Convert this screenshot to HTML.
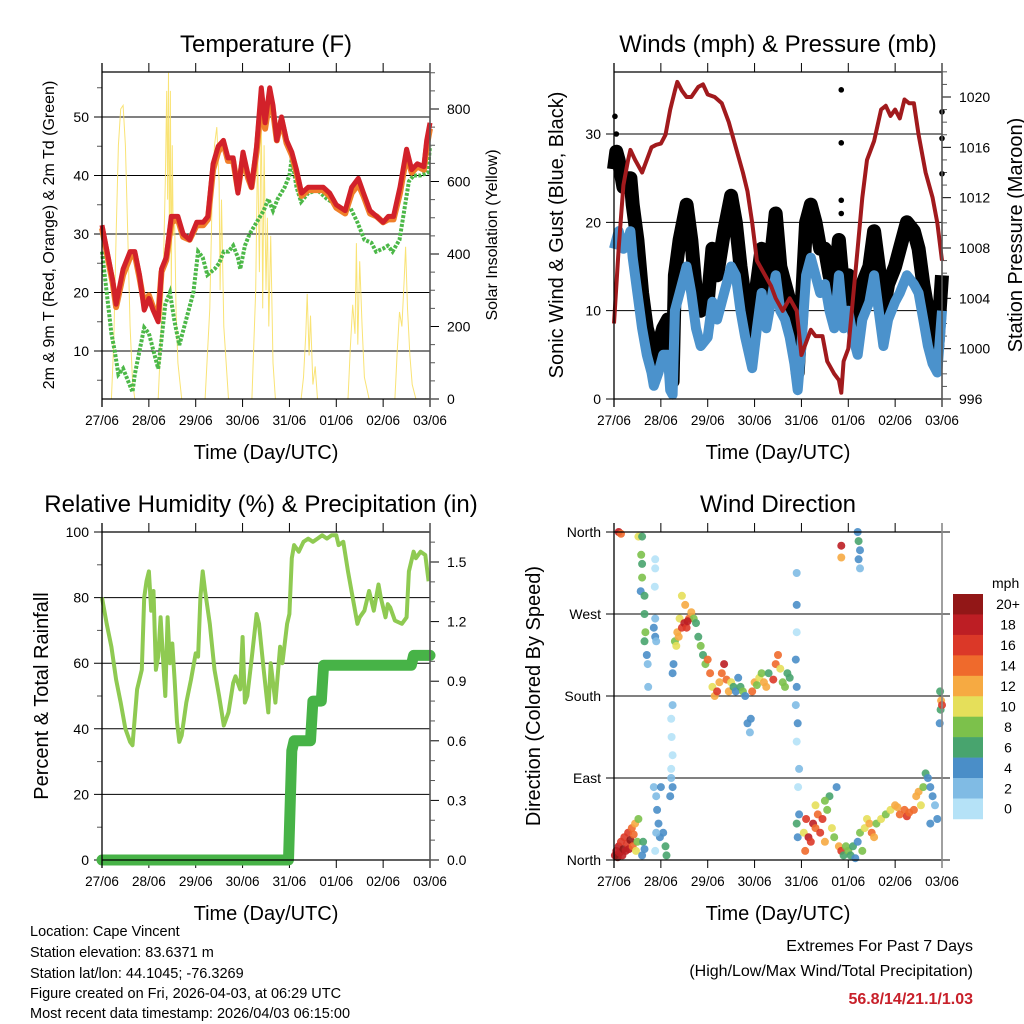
<!DOCTYPE html>
<html><head><meta charset="utf-8"><style>
html,body{margin:0;padding:0;background:#fff;}
svg{display:block;font-family:"Liberation Sans",Arial,sans-serif;}
</style></head><body>
<svg id="fig" width="1024" height="1024" viewBox="0 0 1024 1024" xmlns="http://www.w3.org/2000/svg">
<g id="g"></g>
<text x="30" y="936" font-size="14.5">Location: Cape Vincent</text>
<text x="30" y="957" font-size="14.5">Station elevation: 83.6371 m</text>
<text x="30" y="978" font-size="14.5">Station lat/lon: 44.1045; -76.3269</text>
<text x="30" y="998" font-size="14.5">Figure created on Fri, 2026-04-03, at 06:29 UTC</text>
<text x="30" y="1018" font-size="14.5">Most recent data timestamp: 2026/04/03 06:15:00</text>
<text x="973" y="951" font-size="16" text-anchor="end">Extremes For Past 7 Days</text>
<text x="973" y="976" font-size="16" text-anchor="end">(High/Low/Max Wind/Total Precipitation)</text>
<text x="973" y="1004" font-size="16" font-weight="bold" fill="#c8202a" text-anchor="end">56.8/14/21.1/1.03</text>
</svg>
<script>
// ---------- data ----------
const dayLabels=["27/06","28/06","29/06","30/06","31/06","01/06","02/06","03/06"];
const tempT=[0,0.23,0.3,0.45,0.6,0.7,0.8,0.9,1.0,1.09,1.2,1.27,1.37,1.48,1.62,1.73,1.87,2.02,2.16,2.26,2.37,2.48,2.59,2.69,2.8,2.9,3.01,3.12,3.19,3.3,3.4,3.48,3.58,3.65,3.73,3.83,3.94,4.05,4.15,4.26,4.4,4.58,4.72,4.86,5.0,5.19,5.33,5.47,5.58,5.72,5.86,6.0,6.11,6.22,6.36,6.5,6.61,6.73,6.87,6.93,7.0];
const tempRed=[31.5,22,18,24,27,27,23,17,19,17,15,24,26,33,33,30,29,32,32,33,42,45,46,43,43,37,44,40,38,45,55,49,55,52,46,50,46,44,41,37,38,38,38,37,35,34,38,39.5,37,34,33,32,33,33,38,44.5,41,42,41.5,46,49];
const tempOrange=[31,21.5,17.5,23,26,26.5,22.5,18,19.5,17.5,16,23.5,25.5,32,32.5,29.5,29,31.5,31.5,32.5,41,44,45.5,42.5,42.5,37.5,43,39.5,38,44,53,48,53,51,46,49.5,45.5,43.5,40.5,36.5,37.5,37.5,37.5,36.5,34.5,33.5,37,38.5,36.5,33.5,33,32,32.5,32.5,37,43.5,40.5,41.5,41,45,48];
const dewT=[0,0.1,0.2,0.27,0.35,0.45,0.55,0.65,0.7,0.8,0.9,1.0,1.1,1.2,1.27,1.35,1.45,1.55,1.65,1.75,1.85,1.95,2.05,2.15,2.25,2.4,2.5,2.6,2.7,2.8,2.9,2.95,3.05,3.15,3.3,3.45,3.55,3.65,3.75,3.9,4.0,4.05,4.15,4.25,4.4,4.6,4.8,5.0,5.15,5.3,5.45,5.6,5.75,5.85,6.0,6.1,6.2,6.35,6.45,6.55,6.65,6.8,6.95,7.0];
const dewV=[27,20,13,10,6,7,5,3,6,10,14,13,10,7,12,18,20,15,11,14,17,20,27,26,23,24,25,27,27,28,26,24,28,30,32,34,36,34,36,38,40,43,38,35.5,37,37.5,36,35,34,34.5,32,29,28.5,27,27.5,28,27,29,34,39,40,40,40.5,45];
const solarT=[0,0.2,0.25,0.3,0.35,0.4,0.45,0.5,0.55,0.6,0.65,0.7,1.2,1.3,1.35,1.38,1.4,1.42,1.44,1.46,1.48,1.5,1.52,1.55,1.58,1.62,1.7,2.2,2.3,2.35,2.4,2.45,2.5,2.52,2.55,2.6,2.7,3.2,3.28,3.32,3.36,3.4,3.43,3.46,3.5,3.53,3.56,3.6,3.65,3.7,4.25,4.3,4.35,4.38,4.42,4.45,4.5,4.55,4.6,5.25,5.3,5.35,5.4,5.43,5.46,5.5,5.55,5.6,5.7,6.25,6.3,6.35,6.4,6.45,6.48,6.52,6.57,6.62,6.7];
const solarV=[0,0,150,450,700,800,810,700,450,200,50,0,0,300,600,850,550,900,400,850,300,700,450,500,250,100,0,0,250,550,700,750,600,300,550,200,0,0,300,700,350,800,250,700,300,500,200,450,100,0,0,60,180,290,120,230,40,90,0,0,140,260,180,430,150,380,200,60,0,0,130,240,200,330,420,250,120,40,0];
const windT=[0,0.05,0.1,0.2,0.3,0.35,0.4,0.5,0.6,0.7,0.8,0.85,0.95,1.05,1.15,1.2,1.25,1.3,1.4,1.55,1.65,1.75,1.85,2.0,2.1,2.2,2.35,2.5,2.6,2.7,2.8,2.95,3.05,3.15,3.25,3.35,3.45,3.55,3.65,3.75,3.85,3.92,4.0,4.1,4.2,4.3,4.4,4.5,4.6,4.7,4.8,4.9,5.0,5.1,5.2,5.3,5.45,5.55,5.65,5.75,5.85,6.0,6.1,6.25,6.4,6.5,6.6,6.7,6.8,6.9,7.0];
const windV=[17,18,19,17,18,19,16,12,8,5,3,1.5,3,5,5,1,0.5,10,12,15,12,8,6,7,11,9,12,15,14,10,7,3.5,8,12,8,11,14,10,9,7,4,1,6,14,16,14,12,13,10,8,14,8,10,7,5,9,11,14,10,6,9,11,12,14,13,12,9,6,4,3,10];
const gustV=[26,28,27,24,25,25,22,18,12,8,6,4,6,8,9,4,2,14,18,22,18,12,10,11,17,14,19,23,20,15,11,7,13,17,12,16,21,15,13,11,7,3,10,20,22,20,17,17,14,12,18,12,14,11,8,13,15,19,15,10,13,15,17,20,19,17,13,10,7,6,14];
const gustOutT=[0.02,0.05,4.85,4.85,4.85,4.85,7.0,7.0,7.0];
const gustOutV=[32,30,35,29,22.5,21,32.5,29.5,25.5];
const presT=[0,0.1,0.2,0.3,0.35,0.45,0.6,0.7,0.8,0.9,1.0,1.1,1.2,1.3,1.35,1.45,1.55,1.65,1.8,1.9,2.0,2.15,2.3,2.45,2.6,2.75,2.85,2.95,3.05,3.2,3.35,3.45,3.6,3.75,3.9,4.0,4.1,4.2,4.3,4.45,4.55,4.7,4.8,4.85,4.9,5.0,5.1,5.2,5.3,5.4,5.55,5.7,5.8,5.9,6.0,6.1,6.2,6.3,6.4,6.5,6.65,6.8,6.9,7.0];
const presV=[1002,1008,1013,1015,1015.8,1015,1014,1015,1016,1016.2,1016.3,1017,1019,1020.5,1021.2,1020.5,1020,1020,1020.8,1021,1020.2,1020,1019.5,1018,1016,1014,1012.5,1010,1007,1006,1005,1004,1003,1004,1003,999.5,1000.5,1001.5,1001,1001,999,998,997.5,996.5,999,1000,1004,1008,1012,1015,1016.5,1019,1019.3,1018.5,1019,1018.3,1019.8,1019.5,1019.5,1017,1014,1012,1010,1007];
const rhT=[0,0.1,0.2,0.3,0.4,0.5,0.6,0.65,0.75,0.85,0.9,0.95,1.0,1.05,1.1,1.15,1.2,1.25,1.3,1.35,1.4,1.45,1.5,1.55,1.6,1.65,1.7,1.8,1.9,2.0,2.05,2.1,2.15,2.2,2.3,2.4,2.5,2.6,2.7,2.8,2.85,2.95,3.0,3.05,3.1,3.2,3.3,3.35,3.45,3.55,3.6,3.7,3.8,3.85,3.95,4.0,4.05,4.1,4.2,4.3,4.4,4.5,4.6,4.7,4.8,4.9,5.0,5.05,5.15,5.25,5.35,5.45,5.5,5.6,5.7,5.8,5.9,5.95,6.05,6.1,6.15,6.25,6.4,6.5,6.55,6.65,6.7,6.8,6.9,6.97];
const rhV=[80,72,65,55,48,40,36,35,52,58,80,85,88,76,82,58,62,74,62,50,74,60,66,55,42,36,38,48,55,63,62,80,88,82,72,58,50,41,45,54,56,52,68,48,50,62,75,72,58,45,60,48,65,60,72,75,92,96,94,97,98,97,98,99,98,99,99,96,97,88,80,72,74,76,82,76,84,80,74,78,77,73,72,74,88,94,92,94,93,85];
const rainT=[0,3.98,4.05,4.1,4.45,4.5,4.68,4.73,6.6,6.65,7.0];
const rainV=[0,0,0.55,0.6,0.6,0.8,0.8,0.98,0.98,1.03,1.03];
const dirT=[0.02,0.05,0.08,0.1,0.12,0.15,0.18,0.2,0.22,0.25,0.28,0.3,0.32,0.35,0.38,0.4,0.42,0.45,0.47,0.5,0.52,0.1,0.15,0.52,0.6,0.58,0.6,0.6,0.57,0.65,0.65,0.67,0.65,0.7,0.72,0.73,0.62,0.65,0.6,0.88,0.85,0.88,0.9,0.88,0.88,0.87,0.85,0.9,0.92,0.95,0.98,1.0,1.05,1.1,1.12,0.88,0.9,1.22,1.25,1.22,1.25,1.25,1.27,1.2,1.22,1.25,1.23,1.3,1.33,1.35,1.38,1.4,1.45,1.45,1.5,1.55,1.6,1.65,1.7,1.75,1.8,1.85,1.52,1.57,1.9,1.95,2.0,2.05,2.1,2.15,2.2,2.25,2.3,2.35,2.4,2.45,2.5,2.55,2.6,2.65,2.7,2.75,2.8,2.85,2.9,2.92,2.95,3.0,3.05,3.1,3.15,3.2,3.25,3.3,3.4,3.45,3.5,3.55,3.6,3.65,3.7,3.75,3.9,3.9,3.9,3.88,3.9,3.88,3.92,3.9,3.95,3.93,3.95,3.9,3.92,4.05,4.1,4.15,4.2,4.25,4.3,4.35,4.4,4.45,4.5,4.55,4.6,4.65,4.7,4.75,4.8,4.85,4.9,4.95,4.08,4.3,4.5,5.0,5.05,5.1,5.15,5.2,5.25,5.3,5.2,5.22,5.25,5.22,5.25,4.85,4.85,5.35,5.4,5.45,5.5,5.55,5.6,5.7,5.8,5.9,6.0,6.05,6.1,6.2,6.25,6.3,6.4,6.45,6.5,6.55,6.6,6.65,6.7,6.75,6.8,6.85,6.9,6.75,6.95,6.97,6.98,7.0,6.96];
const dirV=[5,10,3,15,8,20,5,12,25,10,18,30,12,22,35,15,28,40,10,20,45,360,358,355,355,335,325,310,295,290,270,250,240,225,215,190,20,12,5,265,255,245,240,330,320,300,80,70,55,40,25,80,30,15,5,10,30,100,115,155,170,205,215,70,90,80,135,240,235,250,245,265,255,290,260,255,265,272,265,260,245,235,280,262,225,215,220,205,190,180,185,195,205,215,198,185,195,190,185,200,190,185,180,150,140,155,185,195,192,200,205,195,190,205,198,215,225,210,195,190,205,200,315,280,250,220,190,170,150,130,100,80,50,40,25,30,45,25,20,40,35,50,30,45,20,55,70,35,25,80,15,10,5,15,10,60,65,10,5,15,2,20,30,10,360,350,340,330,320,345,332,35,45,40,30,25,40,45,50,55,60,58,50,55,48,52,55,70,75,60,80,95,90,80,70,60,45,40,150,165,175,170,185];
const dirS=[18,19,20,18,19,17,18,20,16,18,17,16,19,20,15,14,14,13,11,9,8,18,14,10,7,8,6,9,4,6,6,8,7,4,3,2,6,4,5,3,4,4,3,1,1,1,3,2,4,4,4,4,5,6,7,1,2,0,1,1,3,5,4,4,3,5,0,9,11,12,13,10,16,11,18,17,14,13,8,6,7,8,13,19,7,8,15,14,10,13,16,12,14,18,15,12,10,7,5,4,6,9,5,4,3,5,14,12,9,10,8,12,13,7,16,14,15,10,8,9,7,6,3,4,1,4,4,3,4,1,3,1,5,6,4,10,16,18,17,19,15,14,16,17,12,8,7,10,8,5,12,17,6,8,14,11,9,9,7,6,4,5,8,9,5,6,4,4,3,18,12,10,11,13,15,12,9,10,8,10,13,12,15,14,16,15,14,13,12,10,8,7,4,4,4,3,4,5,4,6,13,17,7];
const speedLabels=["0","2","4","6","8","10","12","14","16","18","20+"];
const speedColors=["#b5e2f7","#80bbe4","#4a8ec8","#48a46e","#7cc14b","#e5df5a","#f6aa42","#ef6a2c","#db3828","#bd1e24","#921717"];

// ---------- helpers ----------
const NS="http://www.w3.org/2000/svg";
const root=document.getElementById('g');
function mk(tag,attrs,parent){const e=document.createElementNS(NS,tag);for(const k in attrs)e.setAttribute(k,attrs[k]);(parent||root).appendChild(e);return e;}
function lin(d0,d1,r0,r1){return v=>r0+(v-d0)*(r1-r0)/(d1-d0);}
function pts(ts,vs,sx,sy){return ts.map((t,i)=>sx(t).toFixed(1)+','+sy(vs[i]).toFixed(1)).join(' ');}

function frame(p){
  const g=mk('g',{});
  
  
  const t=mk('text',{x:(p.x0+p.x1)/2+(p.tdx||0),y:p.y0-20,'font-size':24,'text-anchor':'middle'},g);
  t.textContent=p.title;
  
  
  const xt=mk('text',{x:(p.x0+p.x1)/2,y:p.y1+60,'font-size':20,'text-anchor':'middle'},g);
  xt.textContent="Time (Day/UTC)";
  
  
  const sx=lin(0,7,p.x0,p.x1);
  dayLabels.forEach((l,i)=>{
    const x=sx(i);
    mk('line',{x1:x,x2:x,y1:p.y1,y2:p.y1+8,stroke:'#000','stroke-width':1},g);
    mk('line',{x1:x,x2:x,y1:p.y0,y2:p.y0-9,stroke:'#000','stroke-width':1},g);
    const tl=mk('text',{x:x,y:p.y1+26,'font-size':13.5,'text-anchor':'middle'},g);
    tl.textContent=l;
    
    
  });
  return {g,sx};
}
function leftAxis(g,p,sy,majors,minors,labels,gridRight){
  majors.forEach((v,i)=>{
    const y=sy(v);
    mk('line',{x1:p.x0-8,x2:gridRight||p.x1,y1:y,y2:y,stroke:'#000','stroke-width':1},g);
    const tl=mk('text',{x:p.x0-13,y:y+5,'font-size':14,'text-anchor':'end'},g);
    tl.textContent=labels[i];
    
    
  });
  minors.forEach(v=>{const y=sy(v);mk('line',{x1:p.x0-5,x2:p.x0,y1:y,y2:y,stroke:'#555','stroke-width':1},g);});
}
function rightAxis(g,p,sy,majors,minors,labels){
  majors.forEach((v,i)=>{
    const y=sy(v);
    mk('line',{x1:p.x1,x2:p.x1+9,y1:y,y2:y,stroke:'#000','stroke-width':1},g);
    const tl=mk('text',{x:p.x1+17,y:y+5,'font-size':14},g);
    tl.textContent=labels[i];
    
    
  });
  minors.forEach(v=>{const y=sy(v);mk('line',{x1:p.x1,x2:p.x1+5,y1:y,y2:y,stroke:'#555','stroke-width':1},g);});
}
function border(g,p,right){
  mk('line',{x1:p.x0,x2:p.x0,y1:p.y0-9,y2:p.y1+8,stroke:'#000','stroke-width':1.3},g);
  mk('line',{x1:p.x0,x2:p.x1,y1:p.y0,y2:p.y0,stroke:'#000','stroke-width':1.3},g);
  mk('line',{x1:p.x0,x2:p.x1,y1:p.y1,y2:p.y1,stroke:'#000','stroke-width':1.3},g);
  mk('line',{x1:p.x1,x2:p.x1,y1:p.y0-9,y2:p.y1+8,stroke:right||'#555','stroke-width':1.6},g);
}
function ytitle(g,x,y,txt,size,name){
  const t=mk('text',{x:x,y:y,'font-size':size,'text-anchor':'middle',transform:`rotate(-90 ${x} ${y})`},g);
  t.textContent=txt;
  
  
}
function range(a,b,s){const r=[];for(let v=a;v<=b+1e-9;v+=s)r.push(+v.toFixed(4));return r;}

// ---------- Temperature ----------
(function(){
  const p={x0:102,x1:430,y0:72,y1:399,title:"Temperature (F)",name:'temperature'};
  const {g,sx}=frame(p);
  const sy=lin(10,50,351,117);
  const sr=lin(0,800,399,109);
  const maj=[10,20,30,40,50];
  leftAxis(g,p,sy,maj,[5,15,25,35,45,55],maj.map(String));
  rightAxis(g,p,sr,[0,200,400,600,800],range(50,900,50).filter(v=>v%200),["0","200","400","600","800"]);
  const sol=mk('polyline',{points:pts(solarT,solarV,sx,sr),fill:'none',stroke:'#f8e066','stroke-width':1,'stroke-opacity':0.9},g);
  
  
  const dew=mk('polyline',{points:pts(dewT,dewV,sx,sy),fill:'none',stroke:'#4cb848','stroke-width':4,'stroke-dasharray':'3 1.5'},g);
  
  
  const or=mk('polyline',{points:pts(tempT,tempOrange,sx,sy),fill:'none',stroke:'#f07f2a','stroke-width':6,'stroke-linejoin':'round'},g);
  
  
  const rd=mk('polyline',{points:pts(tempT,tempRed,sx,sy),fill:'none',stroke:'#d2212a','stroke-width':5,'stroke-linejoin':'round'},g);
  
  
  border(g,p);
  ytitle(g,54,235,"2m & 9m T (Red, Orange) & 2m Td (Green)",16,'temperature-y-axis-title');
  ytitle(g,497,235,"Solar Insolation (Yellow)",16,'solar-y-axis-title');
})();

// ---------- Winds ----------
(function(){
  const p={x0:614,x1:942,y0:72,y1:399,title:"Winds (mph) & Pressure (mb)",name:'winds'};
  const {g,sx}=frame(p);
  const sy=lin(0,30,399,134);
  const sp=lin(996,1020,399,97);
  leftAxis(g,p,sy,[0,10,20,30],[],["0","10","20","30"]);
  rightAxis(g,p,sp,[996,1000,1004,1008,1012,1016,1020],range(997,1022,1).filter(v=>v%4),["996","1000","1004","1008","1012","1016","1020"]);
  const gu=mk('polyline',{points:pts(windT,gustV,sx,sy),fill:'none',stroke:'#000','stroke-width':14,'stroke-linejoin':'round'},g);
  
  
  gustOutT.forEach((t,i)=>{
    const c=mk('circle',{cx:sx(t),cy:sy(gustOutV[i]),r:2.8,fill:'#000'},g);
    
    
  });
  const wl=mk('polyline',{points:pts(windT,windV,sx,sy),fill:'none',stroke:'#4b92cc','stroke-width':10,'stroke-linejoin':'round'},g);
  
  
  const pl=mk('polyline',{points:pts(presT,presV,sx,sp),fill:'none',stroke:'#a11a1d','stroke-width':4,'stroke-linejoin':'round'},g);
  
  
  border(g,p);
  ytitle(g,563,235,"Sonic Wind & Gust (Blue, Black)",20,'wind-y-axis-title');
  ytitle(g,1022,235,"Station Pressure (Maroon)",20,'pressure-y-axis-title');
})();

// ---------- RH ----------
(function(){
  const p={x0:102,x1:430,y0:532,y1:860,title:"Relative Humidity (%) & Precipitation (in)",name:'humidity',tdx:-5};
  const {g,sx}=frame(p);
  const sy=lin(0,100,860,532);
  const sr=lin(0,1.5,860,562);
  const maj=[0,20,40,60,80,100];
  leftAxis(g,p,sy,maj,[10,30,50,70,90],maj.map(String));
  rightAxis(g,p,sr,[0,0.3,0.6,0.9,1.2,1.5],[0.1,0.2,0.4,0.5,0.7,0.8,1.0,1.1,1.3,1.4,1.6],["0.0","0.3","0.6","0.9","1.2","1.5"]);
  const rh=mk('polyline',{points:pts(rhT,rhV,sx,sy),fill:'none',stroke:'#8fca52','stroke-width':4,'stroke-linejoin':'round'},g);
  
  
  const rn=mk('polyline',{points:pts(rainT,rainV,sx,sr),fill:'none',stroke:'#47b347','stroke-width':11,'stroke-linejoin':'round','stroke-linecap':'round'},g);
  
  
  border(g,p);
  ytitle(g,48,696,"Percent & Total Rainfall",20,'humidity-y-axis-title');
})();

// ---------- Wind direction ----------
(function(){
  const p={x0:614,x1:942,y0:532,y1:860,title:"Wind Direction",name:'wind-direction'};
  const {g,sx}=frame(p);
  const sy=lin(0,360,860,532);
  const dirs=[0,90,180,270,360];
  leftAxis(g,p,sy,dirs,[],["North","East","South","West","North"],950);
  dirT.forEach((t,i)=>{
    const b=Math.min(10,Math.floor(dirS[i]/2));
    const c=mk('circle',{cx:sx(t).toFixed(1),cy:sy(dirV[i]).toFixed(1),r:4,fill:speedColors[b],'fill-opacity':0.9},g);
    
    
  });
  border(g,p,'#888');
  ytitle(g,540,696,"Direction (Colored By Speed)",20,'direction-y-axis-title');
  const lg=mk('g',{},g);
  
  
  const lt=mk('text',{x:992,y:588,'font-size':14},lg);
  lt.textContent="mph";
  const top=594,h=20.45;
  speedLabels.forEach((l,i)=>{
    const k=10-i;
    const y=top+i*h;
    mk('rect',{x:953,y:y,width:30,height:h+0.3,fill:speedColors[k]},lg);
    const tx=mk('text',{x:1008,y:y+h/2+5,'font-size':14,'text-anchor':'middle'},lg);
    tx.textContent=speedLabels[k];
    
    
  });
})();
</script>
</body></html>
